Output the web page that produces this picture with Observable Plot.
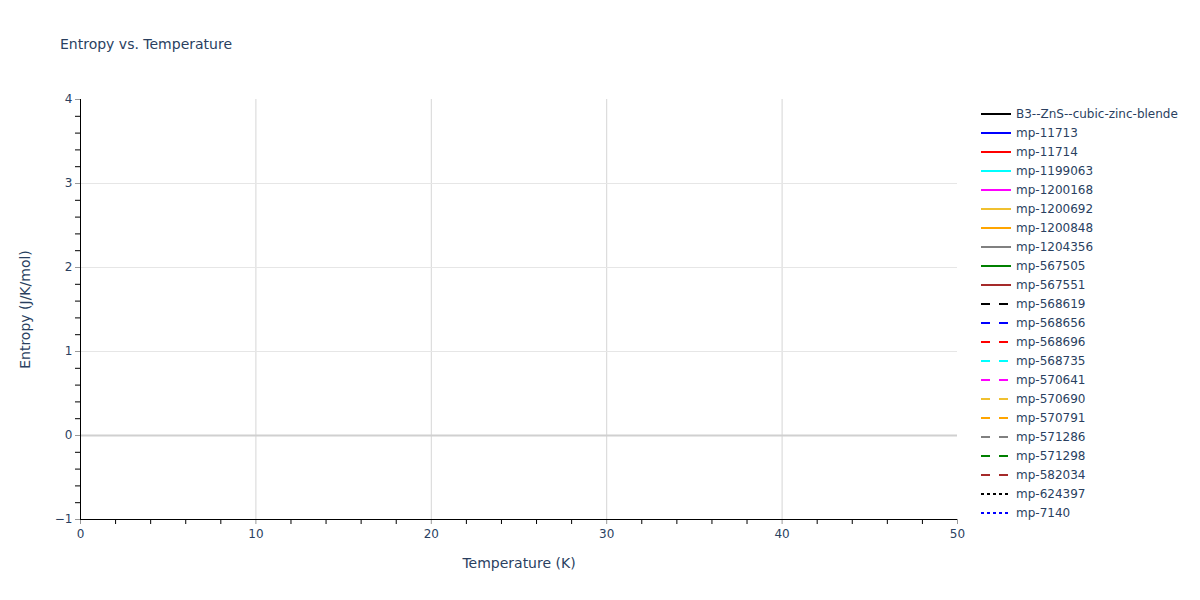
<!DOCTYPE html>
<html>
<head>
<meta charset="utf-8">
<script src="https://cdn.jsdelivr.net/npm/d3@7"></script>
<script src="https://cdn.jsdelivr.net/npm/@observablehq/plot@0.6"></script>
<style>
  html, body { margin: 0; padding: 0; background: #fff; }
  #wrap { position: relative; width: 1200px; height: 600px; font-family: "DejaVu Sans", Verdana, sans-serif; }
  #title { position: absolute; left: 60px; top: 36px; font-size: 14px; color: #2a3f5f; white-space: nowrap; }
  #legend { position: absolute; left: 0; top: 0; }
  #chart { position: absolute; left: 0; top: 0; }
</style>
</head>
<body>
<div id="wrap">
  <div id="chart"></div>
  <div id="title">Entropy vs. Temperature</div>
  <svg id="legend" width="1200" height="600"></svg>
</div>
<script>
// ---- data ----
const seriesNames = ["B3--ZnS--cubic-zinc-blende","mp-11713","mp-11714","mp-1199063","mp-1200168","mp-1200692","mp-1200848","mp-1204356","mp-567505","mp-567551","mp-568619","mp-568656","mp-568696","mp-568735","mp-570641","mp-570690","mp-570791","mp-571286","mp-571298","mp-582034","mp-624397","mp-7140"];
const seriesColors = ["black","blue","red","cyan","magenta","#f0c030","orange","grey","green","brown","black","blue","red","cyan","magenta","#f0c030","orange","grey","green","brown","black","blue"];
const seriesDash = ["solid","solid","solid","solid","solid","solid","solid","solid","solid","solid","dash","dash","dash","dash","dash","dash","dash","dash","dash","dash","dot","dot"];
// No visible data in the plotted range (all traces empty in the reference view)
const seriesTemps = seriesNames.map(() => []);
const seriesEntropy = seriesNames.map(() => []);

const xDomain = [0, 50];
const yDomain = [-1, 4];
const xMajorTicks = [0, 10, 20, 30, 40, 50];
const xMinorTicks = [2,4,6,8,12,14,16,18,22,24,26,28,32,34,36,38,42,44,46,48];
const yMajorTicks = [-1, 0, 1, 2, 3, 4];
const yMinorTicks = [-0.8,-0.6,-0.4,-0.2,0.2,0.4,0.6,0.8,1.2,1.4,1.6,1.8,2.2,2.4,2.6,2.8,3.2,3.4,3.6,3.8];
const xGrid = [10, 20, 30, 40];
const yGrid = [1, 2, 3];
const zeroLine = [0];
const xLabel = "Temperature (K)";
const yLabel = "Entropy (J/K/mol)";

const dashMap = {solid: null, dash: "9,9", dot: "3,3"};

const rows = [];
seriesNames.forEach((name, i) => {
  seriesTemps[i].forEach((t, j) => rows.push({series: name, T: t, S: seriesEntropy[i][j]}));
});

const txt = "#2a3f5f";
const font = '"DejaVu Sans", Verdana, sans-serif';
const chart = Plot.plot({
  width: 1200,
  height: 600,
  marginLeft: 80,
  marginRight: 243,
  marginTop: 99,
  marginBottom: 81,
  style: {fontFamily: font, fontSize: "12px", color: txt, background: "white"},
  x: {domain: xDomain},
  y: {domain: yDomain},
  marks: [
    Plot.gridX(xGrid, {stroke: "#d6d6d6", strokeOpacity: 1, strokeWidth: 1}),
    Plot.gridY(yGrid, {stroke: "#e6e6e6", strokeOpacity: 1, strokeWidth: 1}),
    Plot.ruleY(zeroLine, {stroke: "#d0d0d0", strokeWidth: 2}),
    ...seriesNames.map((name, i) => Plot.line(rows.filter(r => r.series === name), {
      x: "T", y: "S", stroke: seriesColors[i], strokeWidth: 2, strokeDasharray: dashMap[seriesDash[i]]
    })),
    Plot.axisX({ticks: xMinorTicks, tickSize: 5, stroke: "black", strokeOpacity: 1, text: null, label: null}),
    Plot.axisX({ticks: xMajorTicks, tickSize: 5, stroke: "#999", strokeOpacity: 1, tickPadding: 5, fill: txt, fontSize: 12, label: null, tickFormat: d => d}),
    Plot.axisY({ticks: yMinorTicks, tickSize: 5, stroke: "black", strokeOpacity: 1, text: null, label: null}),
    Plot.axisY({ticks: yMajorTicks, tickSize: 5, stroke: "#999", strokeOpacity: 1, tickPadding: 3, fill: txt, fontSize: 12, label: null, tickFormat: d => d < 0 ? "\u2212" + Math.abs(d) : d}),
    Plot.ruleX([xDomain[0]], {stroke: "black", strokeWidth: 1}),
    Plot.ruleY([yDomain[0]], {stroke: "black", strokeWidth: 1}),
    Plot.text([xLabel], {frameAnchor: "bottom", dy: 48, text: d => d, fill: txt, fontSize: 14}),
    Plot.text([yLabel], {frameAnchor: "left", textAnchor: "middle", dx: -55, rotate: -90, text: d => d, fill: txt, fontSize: 14})
  ]
});
document.getElementById("chart").appendChild(chart);

// ---- legend ----
const leg = d3.select("#legend");
const g = leg.selectAll("g").data(seriesNames).join("g")
  .attr("transform", (d, i) => `translate(0,${114 + i * 19})`);
g.append("line")
  .attr("x1", 981).attr("x2", 1011).attr("y1", 0).attr("y2", 0)
  .attr("stroke", (d, i) => seriesColors[i])
  .attr("stroke-width", 2)
  .attr("stroke-dasharray", (d, i) => dashMap[seriesDash[i]]);
g.append("text")
  .attr("x", 1016).attr("y", 0).attr("dy", "0.35em")
  .attr("fill", txt)
  .style("font-family", font)
  .style("font-size", "12px")
  .text(d => d);
</script>
</body>
</html>
